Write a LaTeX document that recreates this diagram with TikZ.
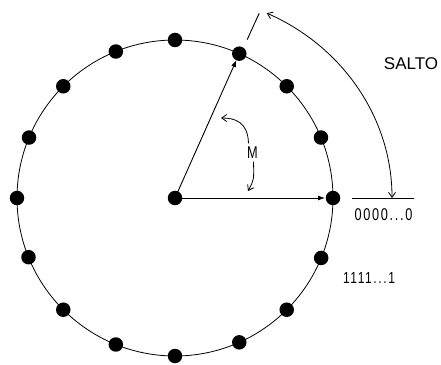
\documentclass[tikz,border=0pt]{standalone}
\usepackage{fontspec}
\setmainfont{Liberation Sans}
\newfontfamily\narrowfont[FakeStretch=0.75,LetterSpace=10]{Liberation Sans}
\usetikzlibrary{arrows.meta,calc}
\begin{document}
\begin{tikzpicture}[x=1pt,y=1pt,
  dot/.style={circle,fill=black,inner sep=0pt,minimum size=14.5pt},
  ring/.style={line width=0.8pt},
  conn/.style={line width=0.9pt},
  radarrow/.style={conn,-{Latex[length=7pt,width=5pt]}},
  barb/.style={line width=0.8pt,{Straight Barb[length=5pt,width=7pt]}-{Straight Barb[length=5pt,width=7pt]}},
  onebarb/.style={line width=0.8pt,-{Straight Barb[length=5pt,width=7pt]}},
  lbl/.style={inner sep=0pt}]
\useasboundingbox (0,0) rectangle (441,364);
\coordinate (c) at (175,166);
\draw[ring] (c) circle[radius=158];
\foreach \a/\n in {0/0,22.5/1,45/2,66/3,90/4,112/5,135/6,157.5/7,180/8,202/9,225/10,248/11,270/12,294/13,315/14,337.7/15}
  \node[dot] (d\n) at ($(c)+(\a:158)$) {};
\node[dot] (ctr) at (c) {};
% radial arrows
\draw[radarrow,shorten >=8pt] (ctr.center) -- (d0.center);
\draw[radarrow,shorten >=7pt] (ctr.center) -- (d3.center);
% radial tick
\coordinate (t1) at ($(c)+(65.5:174)$);
\coordinate (t2) at ($(c)+(65.5:203)$);
\draw[conn] (t1) -- (t2);
% horizontal line at right
\coordinate (h1) at (352,166);
\coordinate (h2) at (414,166);
\draw[conn] (h1) -- (h2);
% big arc SALTO
\coordinate (aend) at (392,166);
\draw[barb] (aend) arc[start angle=0,end angle=65,x radius=217,y radius=204];
% texts
\node[lbl,font=\fontsize{17}{17}\selectfont] (salto) at (411,300.5) {SALTO};
\node[lbl,font=\narrowfont\fontsize{17}{17}\selectfont] (zeros) at (383.5,149.5) {0000...0};
\node[lbl,font=\narrowfont\fontsize{16}{16}\selectfont] (ones) at (369,86.5) {1111...1};
\node[lbl,font=\narrowfont\fontsize{17}{17}\selectfont] (m) at (252.5,211.5) {M};
% small M arrows
\coordinate (u2) at (221,246);
\coordinate (l2) at (248,173);
\draw[onebarb] (m.north) ++(-4,3) .. controls (248,242) and (235,246) .. (u2);
\draw[onebarb] (m.south) ++(1,-3) .. controls (254,184) .. (l2);
\end{tikzpicture}
\end{document}
